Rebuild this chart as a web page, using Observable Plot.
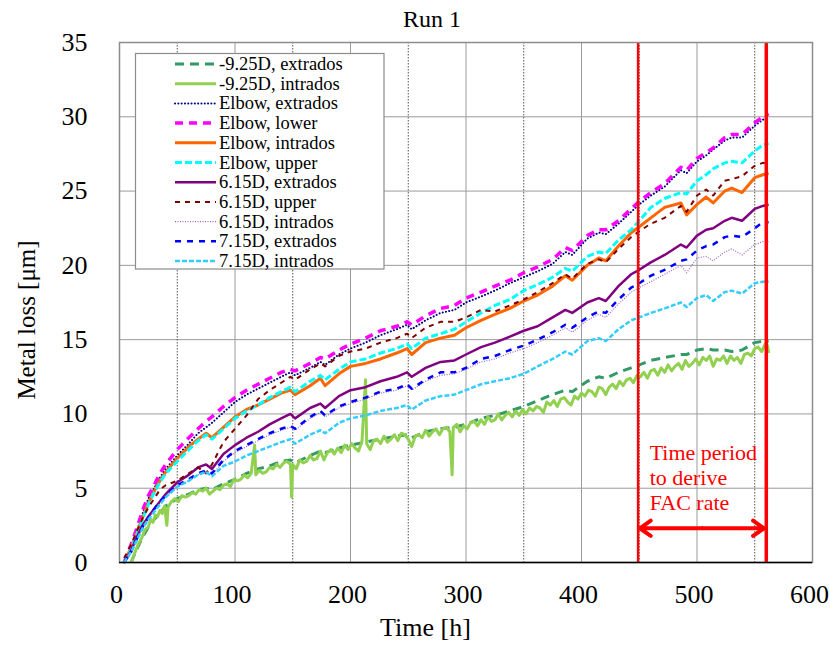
<!DOCTYPE html>
<html><head><meta charset="utf-8">
<script src="https://cdn.jsdelivr.net/npm/d3@7"></script>
<script src="https://cdn.jsdelivr.net/npm/@observablehq/plot@0.6"></script>
<style>
body{margin:0;background:#fff}
svg{font-family:"Liberation Serif","Times New Roman",serif}
</style>
</head><body><div id="chart"></div>
<script>
// ---- data ----
const T = [4,10,15,20,25,30,35,40, 50,60,68,75,80,90,100,110,120,130, 140,148,152,165,174,178,190,200,213,226, 240,249,253,265,278,290,300,313,325,338, 350,362,375,386,392,405,415,421,432,443, 450,460,472,486,491,500,508,514,524,530, 539,550,557,562];

const ext925 = [null,0,0.9,1.7,2.4,2.9,3.3,3.8, 4.3,4.6,4.9,5.0,4.9,5.3,5.6,6.0,6.3,6.5, 6.8,6.9,6.7,7.2,7.5,7.4,7.7,7.9,8.1,8.3, 8.5,8.6,8.4,8.8,9.0,9.1,9.3,9.7,9.9,10.2, 10.5,10.9,11.3,11.6,11.5,12.2,12.5,12.4,12.8,13.1, 13.3,13.6,13.8,14.0,14.0,14.3,14.4,14.3,14.3,14.2, 14.3,14.8,14.9,14.9];
const elbowExt = [0,1.0,2.1,3.3,4.3,5.0,5.7,6.3, 7.2,8.0,8.7,9.1,9.4,10.1,10.8,11.3,11.7,12.1, 12.5,12.8,12.6,13.1,13.5,13.3,14.0,14.4,14.8,15.3, 15.7,16.0,15.7,16.3,16.8,17.0,17.5,17.9,18.3,18.8, 19.2,19.6,20.1,20.9,20.7,21.8,22.2,22.1,22.8,23.6, 24.1,24.7,25.3,26.4,26.2,27.0,27.4,27.8,28.4,28.6, 28.6,29.4,29.8,30.0];
const elbowLower = [0,1.2,2.3,3.5,4.5,5.2,6.0,6.6, 7.6,8.4,9.0,9.5,9.8,10.5,11.1,11.6,12.0,12.4, 12.8,13.0,12.9,13.4,13.8,13.7,14.3,14.7,15.1,15.6, 15.9,16.2,16.0,16.6,17.1,17.3,17.8,18.2,18.6,19.0, 19.5,19.9,20.4,21.2,21.0,22.0,22.4,22.4,23.0,23.8, 24.3,24.9,25.5,26.6,26.4,27.2,27.6,27.9,28.6,28.8, 28.8,29.6,30.0,30.2];
const elbowInt = [0,1.0,2.0,3.0,4.0,4.8,5.5,6.1, 7.0,7.8,8.3,8.7,8.4,9.1,9.8,10.3,10.6,11.0, 11.4,11.6,11.3,11.9,12.4,11.9,12.7,13.2,13.4,13.7, 14.1,14.4,14.0,14.8,15.1,15.3,15.8,16.3,16.7,17.1, 17.6,18.0,18.6,19.3,19.0,20.0,20.5,20.3,21.3,22.2, 22.6,23.2,23.9,24.2,23.4,24.1,24.6,24.2,25.0,25.2, 24.9,25.9,26.1,26.2];
const elbowUpper = [0,0.9,1.9,2.9,3.9,4.7,5.4,6.0, 6.8,7.6,8.2,8.6,8.3,9.0,9.7,10.2,10.6,11.1, 11.5,11.8,11.5,12.2,12.6,12.3,13.0,13.5,13.7,14.1, 14.4,14.7,14.4,15.1,15.4,15.7,16.2,16.8,17.3,17.7, 18.3,18.7,19.2,19.8,19.6,20.6,20.9,20.8,21.7,22.4, 23.0,23.9,24.5,24.9,24.8,25.7,26.1,26.5,26.9,27.0, 26.9,27.7,28.1,28.2];
const d615ext = [0,0.8,1.7,2.5,3.1,3.6,4.1,4.6, 5.4,5.9,6.4,6.6,6.3,7.3,7.9,8.4,8.8,9.3, 9.7,10.0,9.7,10.4,10.7,10.4,11.2,11.6,11.8,12.2, 12.5,12.8,12.5,13.1,13.5,13.6,14.0,14.5,14.8,15.2, 15.6,15.9,16.5,17.0,16.8,17.5,17.8,17.6,18.6,19.4, 19.7,20.2,20.7,21.4,21.2,22.0,22.4,22.5,23.0,23.2, 23.0,23.8,24.0,24.1];
const d615upper = [0.3,1.2,2.1,3.0,3.7,4.3,4.9,5.2, 5.5,6.0,6.4,6.0,6.6,8.1,9.0,9.9,11.0,11.6, 12.1,12.5,12.3,13.0,13.4,13.2,13.9,14.2,14.4,14.8, 15.1,15.4,15.1,15.8,16.2,16.2,16.5,17.0,16.9,17.3, 17.7,18.2,18.8,19.4,19.1,20.1,20.4,20.2,21.1,21.9, 22.3,22.8,23.2,24.0,23.6,24.7,25.1,24.7,25.7,25.8, 26.0,26.7,26.9,26.8];
const d615int = [0,0.6,1.5,2.3,2.9,3.5,4.0,4.4, 5.1,5.5,5.9,6.1,5.9,6.8,7.4,7.8,8.2,8.6, 8.9,9.1,8.9,9.7,10.1,9.8,10.4,10.7,11.0,11.4, 11.6,11.9,11.6,12.2,12.6,12.7,13.0,13.5,13.7,14.1, 14.4,14.8,15.3,15.8,15.5,16.3,16.7,16.5,17.4,18.2, 18.5,18.9,19.4,20.0,19.5,20.5,20.6,20.3,20.9,21.1, 20.7,21.4,21.6,21.6];
const d715ext = [0,0.7,1.6,2.4,3.0,3.6,4.1,4.5, 5.2,5.6,6.0,6.2,6.0,6.9,7.5,7.9,8.3,8.7, 9.0,9.2,9.0,9.8,10.2,9.9,10.5,10.8,11.1,11.5, 11.7,12.0,11.7,12.3,12.8,12.8,13.1,13.7,13.9,14.3, 14.6,15.0,15.5,16.0,15.8,16.5,16.9,16.8,17.7,18.5, 18.8,19.3,19.7,20.3,20.4,21.0,21.3,21.4,21.9,22.0, 21.9,22.5,22.9,22.9];
const d715int = [0,0.7,1.5,2.3,2.9,3.4,3.9,4.4, 5.1,5.5,5.9,6.1,5.8,6.5,6.8,7.2,7.5,7.8, 8.1,8.3,8.0,8.6,8.9,8.7,9.4,9.7,9.9,10.2, 10.4,10.6,10.3,10.9,11.2,11.3,11.6,12.0,12.2,12.4, 12.7,13.2,13.7,14.2,14.0,14.9,15.1,14.9,15.7,16.3, 16.5,16.8,17.1,17.5,17.2,17.8,18.0,17.6,18.2,18.3, 18.1,18.8,18.9,18.9];

// -9.25D intrados is a noisy record with spikes: [time, metal loss]
const int925 = [[10,0],[13,0.6],[16,1.2],[19,1.6],[22,2.2],[25,2.4],[27,2.9],[29,2.7],[31,3.2],[33,3.1],[35,3.5],[37,3.3],[39,3.8],[41,2.5],[42,3.7],[45,4.1],[48,4.3],[51,4.1],[54,4.5],[57,4.4],[60,4.5],[63,4.7],[66,4.6],[69,4.9],[72,4.8],[75,5.0],[78,4.6],[81,4.8],[84,5.0],[87,4.9],[90,5.2],[93,5.3],[96,5.1],[99,5.6],[102,5.5],[105,5.6],[108,5.9],[111,5.7],[114,6.0],[117,7.9],[118,5.9],[121,6.2],[124,6.0],[127,6.1],[130,6.4],[133,6.3],[136,6.6],[139,6.4],[142,6.7],[145,6.8],[148,6.6],[149,4.4],[150,6.6],[153,6.3],[156,6.9],[159,6.7],[162,6.8],[165,7.2],[168,6.9],[171,7.0],[174,7.5],[177,6.9],[180,7.4],[183,7.6],[186,7.3],[189,7.7],[192,7.4],[195,7.9],[198,7.6],[201,8.0],[204,7.7],[207,7.5],[210,8.2],[213,12.3],[214,8.0],[217,7.6],[220,8.2],[223,8.3],[226,8.0],[229,8.5],[232,8.1],[235,8.3],[238,8.6],[241,8.2],[244,8.7],[247,8.6],[250,8.3],[253,7.8],[256,8.5],[259,8.6],[262,8.4],[265,8.9],[268,8.5],[271,8.8],[274,9.0],[277,8.6],[280,9.0],[283,9.1],[286,8.8],[288,5.9],[289,9.1],[292,9.3],[295,8.8],[298,9.2],[301,9.0],[304,9.4],[307,9.5],[310,9.2],[313,9.6],[316,9.3],[319,9.8],[322,9.5],[325,9.6],[328,10.0],[331,9.6],[334,9.9],[337,10.1],[340,9.8],[343,10.2],[346,9.9],[349,10.3],[352,10.0],[355,10.4],[358,10.2],[361,10.5],[364,10.4],[367,10.1],[370,10.8],[373,10.6],[376,10.9],[379,10.5],[382,11.0],[385,11.1],[388,10.8],[391,10.6],[394,11.2],[397,11.0],[400,11.4],[403,11.2],[406,11.6],[409,11.5],[412,11.2],[415,11.8],[418,11.7],[421,11.3],[424,11.8],[427,12.0],[430,11.7],[433,12.2],[436,11.9],[439,12.3],[442,12.4],[445,12.1],[448,12.6],[451,12.5],[454,12.8],[457,12.4],[460,12.9],[463,13.0],[466,12.6],[469,13.1],[472,12.8],[475,13.3],[478,12.9],[481,13.2],[484,13.4],[487,13.0],[490,13.6],[493,13.2],[496,13.4],[499,13.7],[502,13.3],[505,13.8],[508,13.6],[511,13.9],[514,13.2],[517,13.7],[520,13.6],[523,13.9],[526,13.4],[529,13.9],[532,13.6],[535,13.8],[538,13.4],[541,14.0],[544,14.1],[547,13.9],[550,14.4],[553,14.5],[556,14.2],[559,14.7],[561,14.6],[562,14.1]];

const seriesNames = ["-9.25D, extrados","-9.25D, intrados","Elbow, extrados","Elbow, lower","Elbow, intrados","Elbow, upper","6.15D, extrados","6.15D, upper","6.15D, intrados","7.15D, extrados","7.15D, intrados"];
const xTicks = [0,100,200,300,400,500,600];
const yTicks = [0,5,10,15,20,25,30,35];
const periodStart = 449, periodEnd = 560;
const annotationText = "Time period\nto derive\nFAC rate";

// ---- styles ----
const styles = {
  "-9.25D, extrados": {stroke:"#339966", w:3,   dash:"9,6"},
  "-9.25D, intrados": {stroke:"#92D050", w:3,   dash:null},
  "Elbow, extrados":  {stroke:"#000080", w:2,   dash:"0.1,3.2", cap:"round"},
  "Elbow, lower":     {stroke:"#FF00FF", w:3.5, dash:"8,6"},
  "Elbow, intrados":  {stroke:"#FF6600", w:3,   dash:null},
  "Elbow, upper":     {stroke:"#00FFFF", w:3,   dash:"7,3"},
  "6.15D, extrados":  {stroke:"#800080", w:2.5, dash:null},
  "6.15D, upper":     {stroke:"#800000", w:2,   dash:"5,5"},
  "6.15D, intrados":  {stroke:"#9966CC", w:1.2, dash:"1,1.5"},
  "7.15D, extrados":  {stroke:"#0000FF", w:2.5, dash:"6,6"},
  "7.15D, intrados":  {stroke:"#33CCFF", w:2.5, dash:"5,2"}
};

const valueArrays = [ext925, null, elbowExt, elbowLower, elbowInt, elbowUpper, d615ext, d615upper, d615int, d715ext, d715int];
const seriesRows = seriesNames.map((name, k) => {
  if (k === 1) return int925.map(([t, v]) => ({name, t, v}));
  return T.map((t, i) => ({name, t, v: valueArrays[k][i]})).filter(d => d.v != null);
});

const lineMarks = seriesRows.map((rows, k) => {
  const s = styles[seriesNames[k]];
  return Plot.line(rows, {x:"t", y:"v", stroke:s.stroke, strokeWidth:s.w,
    strokeDasharray:s.dash || undefined, strokeLinecap:s.cap || "butt", strokeLinejoin:"round"});
});

const arrowMid = (periodStart + periodEnd) / 2;
const arrowY = 2.3;

const svg = Plot.plot({
  width: 830, height: 646,
  marginLeft: 119, marginRight: 18, marginTop: 42, marginBottom: 84,
  x: {domain:[0,600]},
  y: {domain:[0,35]},
  style: {fontFamily:'"Liberation Serif","Times New Roman",serif', background:"#fff"},
  marks: [
    Plot.gridY({ticks:[5,10,15,20,25,30], stroke:"#9a9a9a", strokeOpacity:1}),
    Plot.gridX({ticks:[100,200,300,400,500], stroke:"#9a9a9a", strokeOpacity:1}),
    Plot.gridX({ticks:[50,150,250,350,450,550], stroke:"#555", strokeOpacity:1, strokeDasharray:"1.5,1.5"}),
    ...lineMarks,
    Plot.ruleX([periodStart], {stroke:"#ff0000", strokeWidth:2.5}),
    Plot.ruleX([periodEnd], {stroke:"#ff0000", strokeWidth:3.5}),
    Plot.arrow([{a:arrowMid, b:periodStart + 1.5, y:arrowY}, {a:arrowMid, b:periodEnd - 2, y:arrowY}],
      {x1:"a", x2:"b", y1:"y", y2:"y", stroke:"#ff0000", strokeWidth:4, headLength:5, headAngle:70}),
    Plot.text([{x:459, y:8.1, s:annotationText}], {x:"x", y:"y", text:"s", textAnchor:"start", lineAnchor:"top",
      fill:"#ff0000", fontSize:22, lineHeight:1.14}),
    Plot.frame({stroke:"#8c8c8c", strokeWidth:1.5}),
    Plot.ruleY([0], {stroke:"#000", strokeWidth:1.5}),
    Plot.axisX({ticks:xTicks, tickSize:0, tickPadding:22, fontSize:26, label:null, dx:-3, fill:"#000"}),
    Plot.axisY({ticks:yTicks, tickSize:0, tickPadding:32, fontSize:26, label:null, fill:"#000"})
  ]
});
document.getElementById("chart").appendChild(svg);

const g = d3.select(svg);
const ff = '"Liberation Serif","Times New Roman",serif';
g.append("text").attr("x",432).attr("y",27).attr("text-anchor","middle")
  .attr("font-size",24).attr("font-family",ff).attr("fill","#000").text("Run 1");
g.append("text").attr("x",425.5).attr("y",636).attr("text-anchor","middle")
  .attr("font-size",26).attr("font-family",ff).attr("fill","#000").text("Time [h]");
g.append("text").attr("transform","translate(35,320) rotate(-90)").attr("text-anchor","middle")
  .attr("font-size",25).attr("font-family",ff).attr("fill","#000").text("Metal loss [μm]");

// legend
const lg = g.append("g");
lg.append("rect").attr("x",135.5).attr("y",53.5).attr("width",248.5).attr("height",215.5)
  .attr("fill","#fff").attr("stroke","#8c8c8c").attr("stroke-width",1.2);
seriesNames.forEach((name, i) => {
  const s = styles[name];
  const y = 64 + i * 19.7;
  lg.append("line").attr("x1",175).attr("x2",216).attr("y1",y).attr("y2",y)
    .attr("stroke",s.stroke).attr("stroke-width",s.w)
    .attr("stroke-dasharray",s.dash || null).attr("stroke-linecap",s.cap || "butt");
  lg.append("text").attr("x",219).attr("y",y+6).attr("text-anchor","start")
    .attr("font-size",18.5).attr("font-family",ff).attr("fill","#000").text(name);
});
</script>
</body></html>
